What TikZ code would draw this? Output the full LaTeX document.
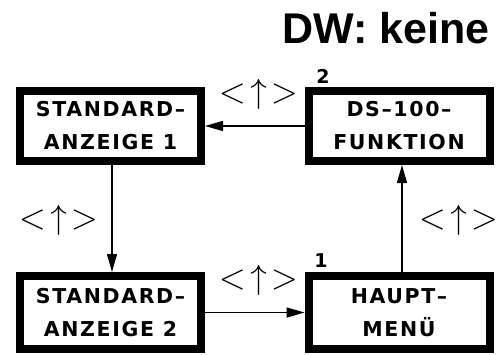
\documentclass[tikz,border=0pt]{standalone}
\usepackage{fontspec}
\setmainfont{Liberation Sans}
\newfontfamily\boxfont[LetterSpace=8]{DejaVu Sans Bold}
\newfontfamily\keyfont[LetterSpace=12]{Latin Modern Math}
\usetikzlibrary{arrows.meta}

\begin{document}
\begin{tikzpicture}[x=1pt,y=-1pt,
    menubox/.style={draw,line width=8pt,minimum width=181pt,minimum height=71pt,
      align=center,font=\boxfont\fontsize{20.5}{33}\selectfont,inner sep=0pt,
      execute at begin node=\rule{0pt}{28pt}},
    keys/.style={font=\keyfont\fontsize{34}{34}\selectfont,inner sep=0pt},
    nr/.style={font=\boxfont\fontsize{19}{19}\selectfont,inner sep=0pt},
    arr/.style={line width=1.5pt,-{Triangle[length=18pt,width=10pt]}}]
\useasboundingbox (0,0) rectangle (501,354);
\node[anchor=base east,inner sep=0pt,font=\bfseries\fontsize{43}{43}\selectfont] (title) at (490,43) {DW: keine};
\node[menubox,minimum height=70pt] (sa1) at (110.5,126) {STANDARD–\\ANZEIGE 1};
\node[menubox,minimum height=70pt] (ds) at (399,126) {DS–100–\\FUNKTION};
\node[menubox,minimum height=73pt] (sa2) at (110.5,312.5) {STANDARD–\\ANZEIGE 2};
\node[menubox,minimum height=73pt] (hm) at (399,312.5) {HAUPT–\\MENÜ};
\draw[arr] (ds) -- (sa1);
\draw[arr] ([xshift=1.5pt]sa1.south) -- ([xshift=1.5pt]sa2.north);
\draw[arr] (sa2) -- (hm);
\draw[arr] ([xshift=3pt]hm.north) -- ([xshift=3pt]ds.south);
\node[keys] (ktop) at (259,94) {<↑>};
\node[keys] (kleft) at (59,220) {<↑>};
\node[keys] (kright) at (459,220) {<↑>};
\node[keys] (kbot) at (259,280) {<↑>};
\node[nr] (n2) at (323,76) {2};
\node[nr] (n1) at (321,261) {1};
\end{tikzpicture}
\end{document}
